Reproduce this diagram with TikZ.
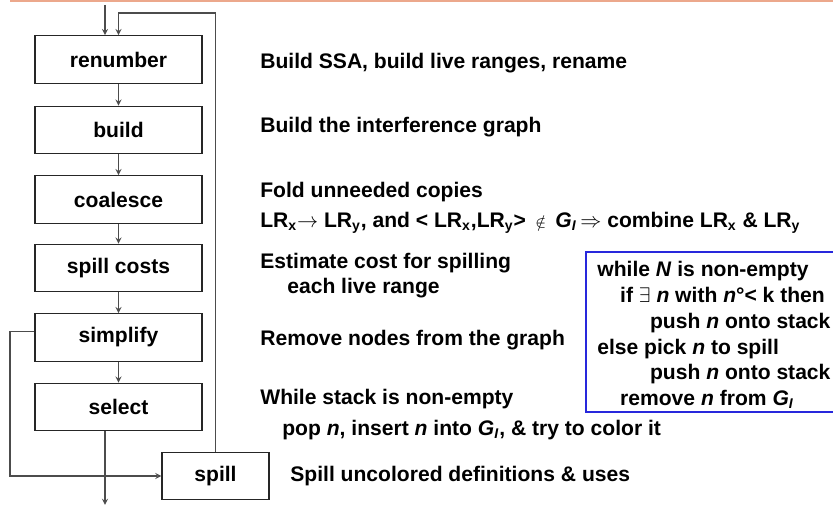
\documentclass[tikz,border=0pt]{standalone}
\usepackage{fontspec}
\setmainfont{Liberation Sans}
\usetikzlibrary{positioning,calc}
\definecolor{rule}{RGB}{236,168,140}
\definecolor{algo}{RGB}{40,40,220}
\tikzset{
  phase/.style={draw=black!85,line width=0.6pt,minimum width=3.34cm,minimum height=0.95cm,inner sep=0pt},
  note/.style={anchor=west,inner sep=0pt},
  flow/.style={->,>=stealth,draw=black!70,line width=0.6pt}
}
\newcommand{\GI}{\textit{G}\textsubscript{\textit{I}}}
\begin{document}
\begin{tikzpicture}[x=0.02cm,y=-0.02cm,font=\fontsize{12}{14}\selectfont\bfseries]
\useasboundingbox (0,0) rectangle (833,506);
\draw[rule,line width=0.9pt] (10,0.8)--(833,0.8);
% the phases
\node[phase] (renumber) at (118.5,59.5) {renumber};
\node[phase] (build) at (118.5,130) {build};
\node[phase] (coalesce) at (118.5,199.5) {coalesce};
\node[phase] (costs) at (118.5,268) {spill costs};
\node[phase] (simplify) at (118.5,337.5) {simplify};
\node[phase] (select) at (118.5,407) {select};
\node[phase,minimum width=2.14cm] (spill) at (215.5,476) {spill};
% connectors
\coordinate (start) at (105,5);
\coordinate (loop) at (118.5,13);
\coordinate (back) at (10,476);
\coordinate (out) at (105,505);
\draw[flow] (start)--(start|-renumber.north);
\draw[flow] (spill.north)|-(loop)--(renumber.north);
\draw[flow] (renumber)--(build);
\draw[flow] (build)--(coalesce);
\draw[flow] (coalesce)--(costs);
\draw[flow] (costs)--(simplify);
\draw[flow] (simplify)--(select);
\draw[flow] ([yshift=1.2mm]simplify.west)-|(back)--(spill.west);
\draw[flow] (select.south-|out)--(out);
% the notes
\node[note] (n1) at (260,63) {Build SSA, build live ranges, rename};
\node[note] (n2) at (260,127) {Build the interference graph};
\node[note] (n3) at (260,192) {Fold unneeded copies};
\node[note] (n4) at (260,223) {LR\textsubscript{x}$\rightarrow$ LR\textsubscript{y}, and < LR\textsubscript{x},LR\textsubscript{y}> \,{\mdseries\small$\notin$}\, \GI\,$\Rightarrow$ combine LR\textsubscript{x} \& LR\textsubscript{y}};
\node[note] (n5) at (260,263) {Estimate cost for spilling};
\node[note] (n6) at (287,288) {each live range};
\node[note] (n7) at (260,340) {Remove nodes from the graph};
\node[note] (n8) at (260,399) {While stack is non-empty};
\node[note] (n9) at (282,430) {pop \textit{n}, insert \textit{n} into \GI, \& try to color it};
\node[note] (n10) at (290,476) {Spill uncolored definitions \& uses};
% the simplify/spill loop
\draw[algo,line width=0.8pt] (833,252)--(586,252)--(586,412)--(833,412);
\node[anchor=north west,inner sep=0pt,align=left,font=\fontsize{12}{14.7}\selectfont\bfseries] (algo) at (597,261)
 {while \textit{N} is non-empty\\
  \hspace*{13pt}if $\exists$ \textit{n} with \textit{n}°< k then\\
  \hspace*{30pt}push \textit{n} onto stack\\
  else pick \textit{n} to spill\\
  \hspace*{30pt}push \textit{n} onto stack\\
  \hspace*{13pt}remove \textit{n} from \GI};
\end{tikzpicture}
\end{document}
